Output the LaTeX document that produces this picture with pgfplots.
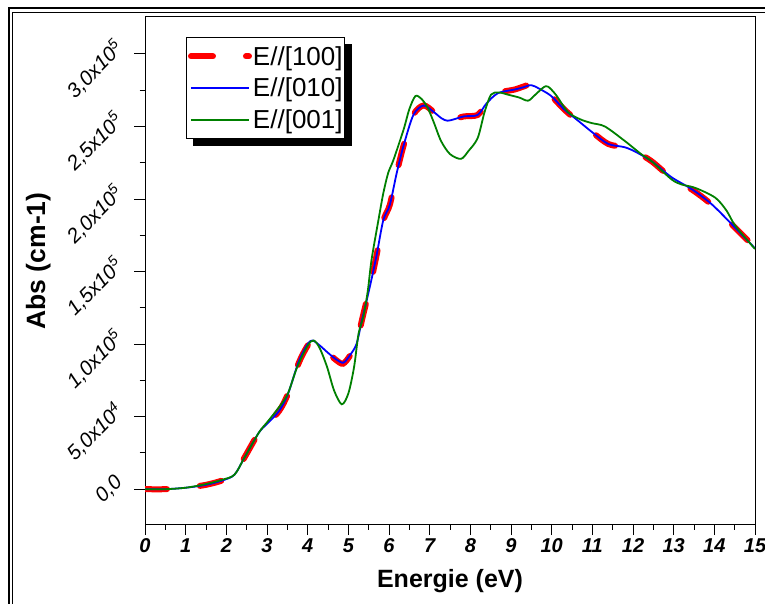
\documentclass[border=0pt]{standalone}
\usepackage{fontspec}
\setmainfont{Liberation Sans}
\usepackage{pgfplots}
\usepackage{pgfplotstable}
\pgfplotsset{compat=1.18}

% absorption in units of 1e5 cm-1
\pgfplotstableread{
E A
0.0 0.0
0.5 0.0
1.0 0.01
1.5 0.03
1.9 0.06
2.2 0.10
2.45 0.22
2.8 0.39
3.0 0.45
3.3 0.54
3.52 0.66
3.78 0.87
4.0 0.99
4.12 1.02
4.3 0.99
4.5 0.94
4.7 0.89
4.87 0.865
5.04 0.92
5.2 1.0
5.33 1.16
5.45 1.30
5.58 1.46
5.7 1.62
5.86 1.85
6.02 1.96
6.19 2.18
6.36 2.37
6.6 2.58
6.85 2.645
7.1 2.60
7.3 2.55
7.44 2.53
7.6 2.55
7.85 2.57
8.18 2.58
8.4 2.66
8.68 2.73
9.09 2.755
9.3 2.775
9.5 2.79
9.7 2.765
9.99 2.71
10.3 2.62
10.65 2.535
11.0 2.46
11.39 2.38
11.8 2.355
12.1 2.32
12.46 2.26
12.95 2.145
13.45 2.065
13.94 1.96
14.52 1.80
15.0 1.665
}\tabR

\pgfplotstableread{
E A
0.0 0.0
0.5 0.0
1.0 0.01
1.5 0.03
1.9 0.06
2.2 0.10
2.45 0.22
2.8 0.39
3.0 0.45
3.3 0.54
3.52 0.66
3.78 0.88
4.0 1.0
4.12 1.025
4.3 0.99
4.5 0.94
4.7 0.895
4.88 0.872
5.04 0.924
5.2 1.0
5.33 1.16
5.45 1.30
5.58 1.46
5.7 1.62
5.86 1.855
6.02 1.96
6.19 2.18
6.36 2.37
6.6 2.58
6.85 2.645
7.1 2.60
7.3 2.555
7.44 2.54
7.6 2.55
7.85 2.57
8.18 2.58
8.4 2.66
8.68 2.73
9.09 2.755
9.3 2.77
9.5 2.785
9.7 2.76
9.99 2.71
10.3 2.62
10.65 2.54
11.0 2.46
11.39 2.38
11.8 2.357
12.1 2.32
12.46 2.26
12.95 2.15
13.45 2.067
13.94 1.963
14.52 1.80
15.0 1.66
}\tabB

\pgfplotstableread{
E A
0.0 0.0
0.5 0.0
1.0 0.01
1.5 0.035
1.9 0.065
2.2 0.10
2.45 0.22
2.8 0.39
3.0 0.46
3.24 0.545
3.5 0.65
3.74 0.84
4.0 0.99
4.15 1.025
4.3 0.97
4.48 0.84
4.65 0.68
4.84 0.585
5.0 0.66
5.14 0.84
5.25 1.07
5.37 1.19
5.48 1.37
5.57 1.58
5.74 1.855
5.86 2.04
5.98 2.18
6.11 2.27
6.36 2.48
6.5 2.62
6.65 2.71
6.8 2.69
6.95 2.63
7.1 2.53
7.28 2.40
7.5 2.31
7.77 2.277
7.95 2.33
8.18 2.42
8.35 2.6
8.51 2.72
8.7 2.735
8.92 2.72
9.2 2.70
9.42 2.678
9.6 2.72
9.8 2.77
9.91 2.775
10.1 2.72
10.4 2.60
10.7 2.55
10.98 2.524
11.31 2.50
11.8 2.40
12.2 2.31
12.46 2.26
12.95 2.135
13.2 2.10
13.53 2.077
14.02 2.01
14.3 1.92
14.52 1.814
15.0 1.656
}\tabG

\begin{document}
\begin{tikzpicture}
\useasboundingbox (0,0) rectangle (765bp,604bp);
\draw[line width=1.7bp] (9.2bp,-20bp) -- (9.2bp,595.8bp) -- (800bp,595.8bp);
\draw[line width=1.1bp] (12.8bp,-20bp) -- (12.8bp,591.8bp) -- (800bp,591.8bp);
\begin{axis}[
  at={(145bp,80bp)}, anchor=south west,
  scale only axis, width=610bp, height=507bp,
  xmin=0, xmax=15, ymin=-0.24, ymax=3.255,
  xtick={0,1,...,15},
  xticklabels={0,1,2,3,4,5,6,7,8,9,10,11,12,13,14,15},
  ytick={0,0.5,1,1.5,2,2.5,3},
  yticklabels={{0,0},{5,0x10\textsuperscript{4}},{1,0x10\textsuperscript{5}},{1,5x10\textsuperscript{5}},{2,0x10\textsuperscript{5}},{2,5x10\textsuperscript{5}},{3,0x10\textsuperscript{5}}},
  minor x tick num=1, minor y tick num=1,
  tick align=outside, xtick pos=bottom, ytick pos=left,
  major tick length=11bp, minor tick length=5.5bp,
  tick style={black, line width=1bp},
  axis line style={line width=1bp},
  xticklabel style={font=\fontsize{20bp}{24bp}\selectfont\bfseries\itshape},
  yticklabel style={xshift=-12bp, yshift=12bp, font=\fontsize{20.5bp}{24bp}\selectfont\itshape, rotate=45, anchor=east},
  xlabel={Energie (eV)}, ylabel={Abs (cm-1)},
  xlabel style={font=\fontsize{25bp}{29bp}\selectfont\bfseries,
    at={([yshift=-63bp]axis description cs:0.5,0)}, anchor=base},
  ylabel style={font=\fontsize{26.5bp}{30bp}\selectfont\bfseries,
    at={([xshift=-100bp,yshift=9.5bp]axis description cs:0,0.5)}, anchor=base},
  legend style={name=leg, at={(0.068,0.96)}, anchor=north west, draw=black, line width=1bp,
    fill=white, font=\fontsize{26bp}{30bp}\selectfont,
    inner xsep=1bp, inner ysep=7.5bp, nodes={inner sep=1bp}, row sep=9.5bp},
  legend cell align=left,
  legend image code/.code={\draw[#1] (0bp,0bp) -- (58bp,0bp);},
]
\addplot[red, line width=6bp, line cap=round, dash pattern=on 22bp off 33bp, smooth] table {\tabR};
\addlegendentry{E//[100]}
\addplot[blue, line width=1.8bp, smooth] table {\tabB};
\addlegendentry{E//[010]}
\addplot[green!50!black, line width=1.8bp, smooth] table {\tabG};
\addlegendentry{E//[001]}
\end{axis}
% legend shadow
\fill[black] ([yshift=-7bp]leg.north east) rectangle ([xshift=7bp,yshift=-7bp]leg.south east);
\fill[black] ([xshift=7bp]leg.south west) rectangle ([xshift=7bp,yshift=-7bp]leg.south east);
\end{tikzpicture}
\end{document}
